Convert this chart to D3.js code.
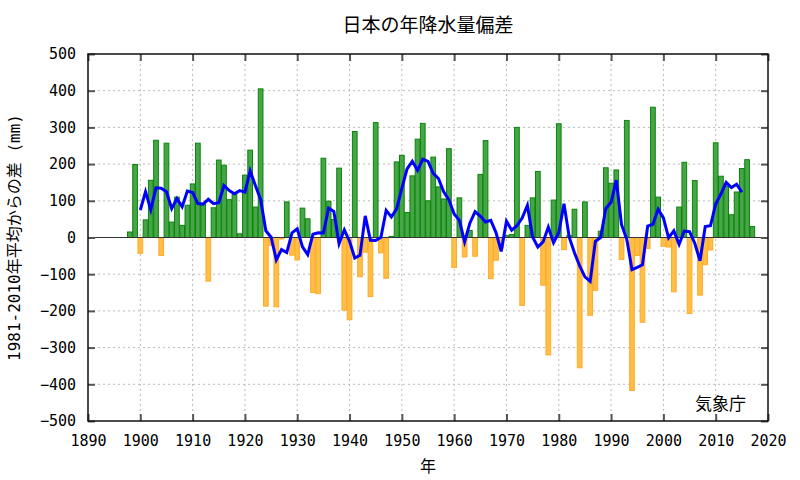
<!DOCTYPE html>
<html>
<head>
<meta charset="utf-8">
<script src="https://cdn.jsdelivr.net/npm/d3@7"></script>
<style>
  body { margin: 0; background: #fff; }
  svg text { font-family: "Noto Sans CJK JP", "Noto Sans", sans-serif; fill: #000; }
  svg text.mono, svg .tick text { font-family: "DejaVu Sans Mono", "Noto Sans CJK JP", monospace; }
</style>
</head>
<body>
<div id="chart"></div>
<script>
// 年降水量偏差 (1981-2010年平均からの差, mm), 1898年から
const firstYear = 1898;
const anomalies = [
  15, 199, -43, 48, 156, 265, -49, 257, 42, 110,      // 1898-1907
  33, 88, 146, 257, 90, -119, 81, 211, 197, 103,      // 1908-1917
  117, 10, 170, 238, 83, 405, -187, -21, -189, -4,    // 1918-1927
  97, -48, -61, 80, 51, -150, -153, 216, 99, 49,      // 1928-1937
  189, -198, -224, 289, -107, -40, -161, 313, -42, -111, // 1938-1947
  3, 206, 224, 68, 168, 268, 311, 100, 219, 138,      // 1948-1957
  105, 242, -82, 108, -53, 19, -51, 172, 264, -112,   // 1958-1967
  -62, -28, 5, 8, 300, -185, 33, 108, 180, -130,      // 1968-1977
  -320, 102, 310, -33, 5, 77, -355, 97, -212, -144,   // 1978-1987
  17, 190, 148, 184, -60, 319, -417, -49, -231, -30,  // 1988-1997
  355, 110, -24, -26, -148, 83, 205, -207, 155, -157, // 1998-2007
  -74, -34, 258, 167, 139, 62, 124, 188, 212, 30      // 2008-2017
];
const xTicks = [1890, 1900, 1910, 1920, 1930, 1940, 1950, 1960, 1970, 1980, 1990, 2000, 2010, 2020];
const yTicks = [-500, -400, -300, -200, -100, 0, 100, 200, 300, 400, 500];

const title = "日本の年降水量偏差";
const xLabel = "年";
const yLabel = "1981-2010年平均からの差 (mm)";
const credit = "気象庁";

const data = anomalies.map((v, i) => ({ year: firstYear + i, value: v }));

// 5年移動平均 (前後2年ずつ)
const smooth = data.slice(2, data.length - 2).map((d, i) => ({
  year: d.year,
  value: d3.mean(anomalies.slice(i, i + 5))
}));

const margin = { top: 54, right: 32, bottom: 59, left: 88 },
  width = 800 - margin.left - margin.right,
  height = 480 - margin.top - margin.bottom;

const svg = d3.select("#chart")
  .append("svg")
  .attr("width", 800)
  .attr("height", 480)
  .append("g")
  .attr("transform", `translate(${margin.left},${margin.top})`);

const x = d3.scaleLinear().domain([1890, 2020]).range([0, width]);
const y = d3.scaleLinear().domain([-500, 500]).range([height, 0]);

// grid
svg.append("g")
  .selectAll("line")
  .data(xTicks.slice(1, -1))
  .enter()
  .append("line")
  .attr("x1", d => x(d)).attr("x2", d => x(d))
  .attr("y1", 0).attr("y2", height)
  .attr("stroke", "#bbb")
  .attr("stroke-dasharray", "2,3");

svg.append("g")
  .selectAll("line")
  .data(yTicks.slice(1, -1).filter(d => d !== 0))
  .enter()
  .append("line")
  .attr("x1", 0).attr("x2", width)
  .attr("y1", d => y(d)).attr("y2", d => y(d))
  .attr("stroke", "#bbb")
  .attr("stroke-dasharray", "2,3");

// bars
const barW = (x(1891) - x(1890)) * 0.9;
svg.selectAll(".bar")
  .data(data)
  .enter()
  .append("rect")
  .attr("class", "bar")
  .attr("x", d => x(d.year) - barW / 2)
  .attr("y", d => y(Math.max(0, d.value)))
  .attr("width", barW)
  .attr("height", d => Math.abs(y(d.value) - y(0)))
  .attr("fill", d => d.value >= 0 ? "#46a546" : "#ffbe45")
  .attr("stroke", d => d.value >= 0 ? "#0b840b" : "#ffab2a")
  .attr("stroke-width", 1);

// zero line
svg.append("line")
  .attr("x1", 0).attr("x2", width)
  .attr("y1", y(0)).attr("y2", y(0))
  .attr("stroke", "#333")
  .attr("stroke-width", 1);

// moving average
svg.append("path")
  .datum(smooth)
  .attr("fill", "none")
  .attr("stroke", "#0000ff")
  .attr("stroke-width", 3)
  .attr("d", d3.line().x(d => x(d.year)).y(d => y(d.value)));

// axes with inward ticks
svg.append("g")
  .attr("transform", `translate(0,${height})`)
  .call(d3.axisBottom(x).tickValues(xTicks).tickFormat(d3.format("d")).tickSize(-7).tickPadding(14));
svg.append("g")
  .call(d3.axisLeft(y).tickValues(yTicks).tickSize(-7).tickPadding(12));
svg.append("g")
  .call(d3.axisTop(x).tickValues(xTicks).tickSize(-7).tickFormat(""));
svg.append("g")
  .attr("transform", `translate(${width},0)`)
  .call(d3.axisRight(y).tickValues(yTicks).tickSize(-7).tickFormat(""));

svg.selectAll(".domain").remove();
svg.selectAll(".tick line").attr("stroke", "#555").attr("stroke-width", 2);
svg.selectAll(".tick text").style("font-size", "15px");

// frame
svg.append("rect")
  .attr("width", width)
  .attr("height", height)
  .attr("fill", "none")
  .attr("stroke", "#111")
  .attr("stroke-width", 1.5);

// titles
svg.append("text")
  .attr("x", width / 2)
  .attr("y", -22)
  .style("text-anchor", "middle")
  .style("font-size", "19px")
  .text(title);

svg.append("text")
  .attr("x", width / 2)
  .attr("y", height + 51)
  .style("text-anchor", "middle")
  .style("font-size", "16px")
  .text(xLabel);

svg.append("text")
  .attr("class", "mono")
  .attr("transform", "rotate(-90)")
  .attr("x", -height / 2)
  .attr("y", -68)
  .style("text-anchor", "middle")
  .style("font-size", "16px")
  .text(yLabel);

svg.append("text")
  .attr("x", width - 22)
  .attr("y", height - 11)
  .style("text-anchor", "end")
  .style("font-size", "17px")
  .text(credit);
</script>
</body>
</html>
